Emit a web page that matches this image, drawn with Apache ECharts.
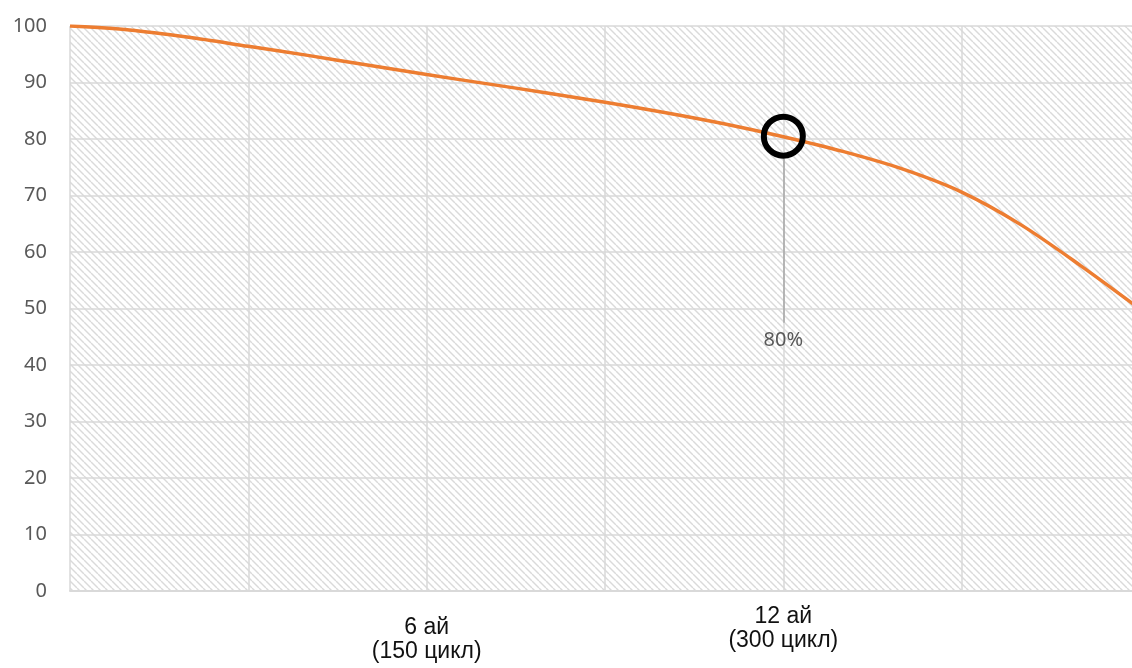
<!DOCTYPE html>
<html>
<head>
<meta charset="utf-8">
<script src="https://cdn.jsdelivr.net/npm/echarts@6/dist/echarts.min.js"></script>
<style>html,body{margin:0;padding:0;background:#fff}#c{width:1132px;height:668px}</style>
</head>
<body>
<div id="c"></div>
<script>
// months on the x axis, remaining capacity (%) on the y axis
const months   = [0, 1, 2, 3, 4, 5, 6, 7, 8, 9, 10, 11, 12, 13, 14, 15, 16, 17, 18];
const capacity = [100, 99.3, 98.0, 96.4, 94.8, 93.1, 91.4, 89.8, 88.2, 86.5, 84.7, 82.7, 80.4, 77.8, 74.7, 70.6, 64.8, 57.6, 49.9];
const xLabels  = {6: '{s| }\n{a|6 ай}\n{a|(150 цикл)}', 12: '{a|12 ай}\n{a|(300 цикл)}'};
const markerPoint = [12, 80.5];
const calloutEnd  = [12, 47.5];
const calloutText = '80%';

const pc = document.createElement('canvas');
const s = 7;
pc.width = s; pc.height = s;
const g = pc.getContext('2d');
g.strokeStyle = '#dadada';
g.lineWidth = 1.4;
for (let k = -1; k <= 1; k++) {
  g.beginPath(); g.moveTo(k * s, 0); g.lineTo(k * s + s, s); g.stroke();
}

const chart = echarts.init(document.getElementById('c'));
chart.setOption({
  animation: false,
  grid: {left: 70, width: 1070, top: 26, bottom: 77, show: true, borderWidth: 0,
         containLabel: false, outerBoundsMode: 'none',
         backgroundColor: {image: pc, repeat: 'repeat'}},
  xAxis: {
    type: 'value', min: 0, max: 18, interval: 3,
    axisLine: {lineStyle: {color: '#d9d9d9', width: 2}},
    axisTick: {show: false},
    splitLine: {show: true, lineStyle: {color: '#d9d9d9', width: 1.5}},
    axisLabel: {
      margin: 14,
      formatter: v => xLabels[v] || '',
      rich: {
        a: {fontFamily: 'Liberation Sans', fontSize: 23, color: '#111', lineHeight: 24, align: 'center'},
        s: {fontSize: 1, lineHeight: 11, height: 11}
      }
    }
  },
  yAxis: {
    type: 'value', min: 0, max: 100, interval: 10,
    axisLine: {show: false}, axisTick: {show: false},
    splitLine: {lineStyle: {color: '#d9d9d9', width: 1.5}},
    axisLabel: {margin: 23, fontFamily: 'Noto Sans', fontSize: 20, color: '#595959'}
  },
  series: [{
    type: 'line', data: months.map((m, i) => [m, capacity[i]]),
    smooth: 0.3, showSymbol: false,
    lineStyle: {color: '#ED7D31', width: 3.5},
    markPoint: {
      symbol: 'circle', symbolSize: 39,
      itemStyle: {color: 'rgba(0,0,0,0)', borderColor: '#000', borderWidth: 6},
      label: {show: false},
      data: [{coord: markerPoint}]
    },
    markLine: {
      symbol: 'none', silent: true,
      lineStyle: {color: '#a6a6a6', width: 1.5, type: 'solid'},
      label: {show: true, position: 'end', distance: 8, formatter: calloutText,
              fontFamily: 'Noto Sans', fontSize: 20, color: '#595959'},
      data: [[{coord: [markerPoint[0], markerPoint[1] - 4]}, {coord: calloutEnd}]]
    }
  }]
});
</script>
</body>
</html>
